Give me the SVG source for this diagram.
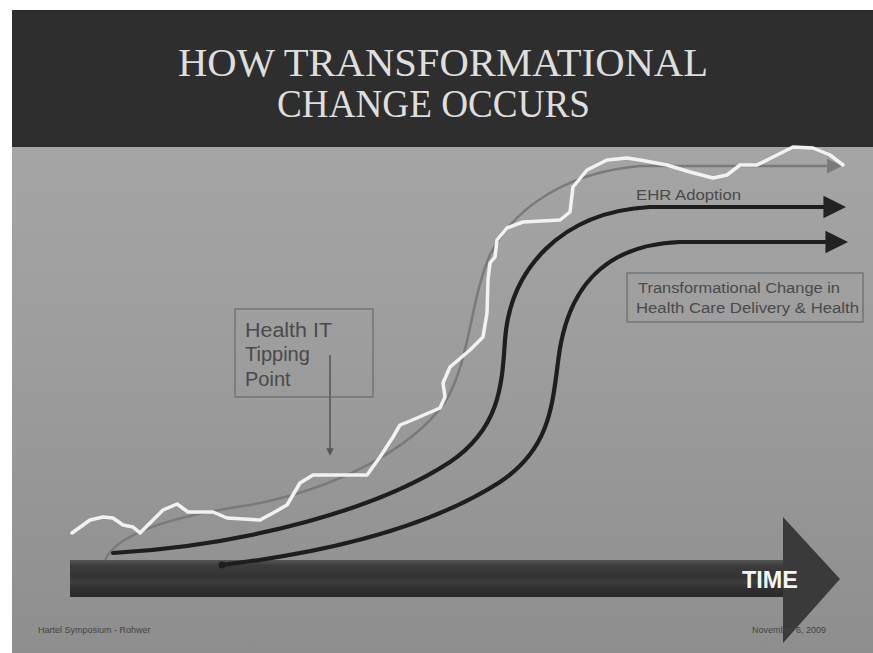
<svg xmlns="http://www.w3.org/2000/svg" width="873" height="653" viewBox="0 0 873 653">
<defs>
<linearGradient id="bg" x1="0" y1="0" x2="0" y2="1">
<stop offset="0" stop-color="#aaaaaa"/>
<stop offset="0.5" stop-color="#9e9e9e"/>
<stop offset="1" stop-color="#8e8e8e"/>
</linearGradient>
<linearGradient id="bar" x1="0" y1="0" x2="0" y2="1">
<stop offset="0" stop-color="#555"/>
<stop offset="0.15" stop-color="#3c3c3c"/>
<stop offset="0.45" stop-color="#333"/>
<stop offset="0.6" stop-color="#3e3e3e"/>
<stop offset="0.75" stop-color="#303030"/>
<stop offset="1" stop-color="#2a2a2a"/>
</linearGradient>
<marker id="ah" viewBox="0 0 10 10" refX="2" refY="5" markerWidth="5.4" markerHeight="5.6" orient="auto">
<path d="M0,0 L10,5 L0,10 z" fill="#222"/>
</marker>
<marker id="ahg" viewBox="0 0 10 10" refX="2" refY="5" markerWidth="6" markerHeight="6" orient="auto">
<path d="M0,0 L10,5 L0,10 z" fill="#7a7a7a"/>
</marker>
<marker id="small" viewBox="0 0 10 10" refX="5" refY="5" markerWidth="5" markerHeight="5" orient="auto">
<path d="M0,0 L10,5 L0,10 z" fill="#555"/>
</marker>
</defs>
<style>
.title{font-family:"Liberation Serif","DejaVu Serif",serif;font-size:40px;fill:#dedede}
.lbl{font-family:"Liberation Sans",Arial,sans-serif;fill:#4a4a4a}
.foot{font-family:"Liberation Sans",Arial,sans-serif;font-size:9px;fill:#444}
.box{fill:none;stroke:#6a6a6a;stroke-width:1.2}
.blk{fill:none;stroke:#1e1e1e;stroke-width:4.2;stroke-linecap:round}
</style>
<rect x="0" y="0" width="873" height="653" fill="#ffffff"/>
<rect x="12" y="10" width="861" height="643" fill="url(#bg)"/>
<g id="title">
<rect x="12" y="10" width="861" height="137" fill="#2e2e2e"/>
<text class="title" x="178" y="76" textLength="530" lengthAdjust="spacingAndGlyphs">HOW TRANSFORMATIONAL</text>
<text class="title" x="277" y="117" textLength="313" lengthAdjust="spacingAndGlyphs">CHANGE OCCURS</text>
</g>
<g id="time-arrow">
<rect x="70" y="560" width="716" height="37" fill="url(#bar)"/>
<polygon points="783,517 840,579 783,643" fill="#3a3a3a"/>
<text x="742" y="588" font-family="'Liberation Sans',Arial,sans-serif" font-weight="bold" font-size="24" fill="#f4f4f4" textLength="56" lengthAdjust="spacingAndGlyphs">TIME</text>
</g>
<g id="connectors">
<path id="s-curve" d="M105,560 C118,532 180,515 250,505 C330,490 410,452 445,402 C470,362 470,300 490,255 C515,205 570,172 640,166 L830,166" fill="none" stroke="#7a7a7a" stroke-width="2.5" marker-end="url(#ahg)"/>
<path id="ehr" class="blk" d="M113,553 C250,545 380,508 450,462 C500,428 502,385 505,340 C510,270 560,212 650,207 L828,207" marker-end="url(#ah)"/>
<path id="transform" class="blk" d="M222,565 C330,552 430,527 500,482 C548,450 552,410 558,362 C566,292 600,245 680,242 L830,242" marker-end="url(#ah)"/>
<circle cx="222" cy="565" r="3.5" fill="#1e1e1e"/>
<polyline id="data-line" fill="none" stroke="#f2f2f2" stroke-width="3.5" stroke-linejoin="round" stroke-linecap="round" points="72,533 90,520 103,517 113,518 123,525 133,527 140,533 150,523 163,510 177,504 188,512 213,512 227,518 260,520 273,513 287,505 300,483 313,475 343,475 367,475 380,457 393,437 400,425 410,421 440,408 445,397 443,383 450,367 470,350 483,337 487,313 488,280 490,263 495,257 497,240 507,228 523,222 560,220 570,212 573,187 587,170 607,160 627,158 640,160 667,165 690,172 713,178 727,175 740,165 757,165 773,157 793,147 813,148 830,155 843,165"/>
<line x1="330" y1="355" x2="330" y2="452" stroke="#555" stroke-width="1.5" marker-end="url(#small)"/>
</g>
<g id="ehr-label">
<text class="lbl" x="636" y="200" font-size="15" textLength="105" lengthAdjust="spacingAndGlyphs">EHR Adoption</text>
</g>
<g id="transform-label">
<rect class="box" x="627" y="273" width="236" height="49"/>
<text class="lbl" x="638" y="293" font-size="14" textLength="202" lengthAdjust="spacingAndGlyphs">Transformational Change in</text>
<text class="lbl" x="636" y="313" font-size="14" textLength="223" lengthAdjust="spacingAndGlyphs">Health Care Delivery &amp; Health</text>
</g>
<g id="tipping-point">
<rect class="box" x="235" y="309" width="138" height="88"/>
<text class="lbl" x="245" y="337" font-size="20" textLength="87" lengthAdjust="spacingAndGlyphs">Health IT</text>
<text class="lbl" x="245" y="361" font-size="20">Tipping</text>
<text class="lbl" x="245" y="386" font-size="20">Point</text>
</g>
<g id="footer">
<text class="foot" x="38" y="633">Hartel Symposium - Rohwer</text>
<text class="foot" x="752" y="633">November 6, 2009</text>
</g>
</svg>
